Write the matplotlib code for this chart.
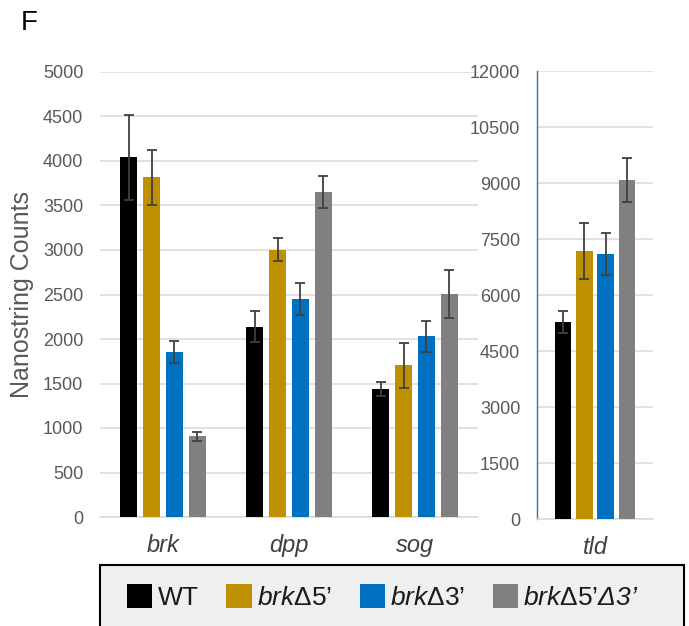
import matplotlib
matplotlib.use("Agg")
import matplotlib.pyplot as plt
from matplotlib.patches import Rectangle, Patch
import numpy as np

plt.rcParams['font.family'] = ['Liberation Sans', 'DejaVu Sans']
plt.rcParams['mathtext.fontset'] = 'custom'
plt.rcParams['mathtext.rm'] = 'Liberation Sans:italic'
plt.rcParams['mathtext.it'] = 'Liberation Sans:italic'
plt.rcParams['mathtext.sf'] = 'Liberation Sans'

# ---- data ----
genes_left = ['brk', 'dpp', 'sog']
genes_right = ['tld']
series_names = ['WT', 'brkΔ5’', 'brkΔ3’', 'brkΔ5’Δ3’']
legend_labels = ['WT',
                 r'$\mathrm{brk}\mathsf{Δ5’}$',
                 r'$\mathrm{brk}\mathsf{Δ3’}$',
                 r'$\mathrm{brk}\mathsf{Δ5’}\mathrm{Δ3’}$']
colors = ['#000000', '#BF9000', '#0070C0', '#808080']

wt_left = [4040, 2140, 1440]
wt_left_err = [475, 172, 75]
d5_left = [3815, 3005, 1705]
d5_left_err = [305, 128, 255]
d3_left = [1855, 2445, 2030]
d3_left_err = [125, 180, 175]
d53_left = [905, 3650, 2505]
d53_left_err = [55, 180, 265]

tld_values = [5280, 7180, 7100, 9080]
tld_errors = [295, 760, 555, 600]

left_yticks = [0, 500, 1000, 1500, 2000, 2500, 3000, 3500, 4000, 4500, 5000]
right_yticks = [0, 1500, 3000, 4500, 6000, 7500, 9000, 10500, 12000]

# ---- figure ----
W, H = 689, 626
fig = plt.figure(figsize=(W / 100, H / 100), dpi=100)

def fx(px):
    return px / W

def fy(py):
    return 1 - py / H

axL = fig.add_axes([fx(100), fy(517), fx(478) - fx(100), fy(72) - fy(517)])
axR = fig.add_axes([fx(537), fy(519), fx(653) - fx(537), fy(71) - fy(519)])

step = 0.182
width = 0.14
grid_c = '#d9d9d9'
err_kw = dict(ecolor='#404040', elinewidth=1.3, capsize=3.5, capthick=1.3)

left_vals = [wt_left, d5_left, d3_left, d53_left]
left_errs = [wt_left_err, d5_left_err, d3_left_err, d53_left_err]
x = np.arange(len(genes_left))
for i in range(4):
    axL.bar(x + (i - 1.5) * step, left_vals[i], width, yerr=left_errs[i],
            color=colors[i], error_kw=err_kw, zorder=3)

xr = np.arange(len(genes_right))
for i in range(4):
    axR.bar(xr + (i - 1.5) * step, [tld_values[i]], width, yerr=[tld_errors[i]],
            color=colors[i], error_kw=err_kw, zorder=3)

axL.set_xlim(-0.5, 2.5)
axL.set_ylim(0, 5000)
axL.set_yticks(left_yticks)
axR.set_xlim(-0.5, 0.5)
axR.set_ylim(0, 12000)
axR.set_yticks(right_yticks)

axL.set_xticks(x)
axL.set_xticklabels(genes_left)
axR.set_xticks(xr)
axR.set_xticklabels(genes_right)

for ax in (axL, axR):
    ax.yaxis.grid(True, color=grid_c, lw=1.1, zorder=0)
    ax.set_axisbelow(True)
    for s in ('top', 'right', 'left'):
        ax.spines[s].set_visible(False)
    ax.spines['bottom'].set_color(grid_c)
    ax.spines['bottom'].set_linewidth(1.1)
    ax.tick_params(axis='both', length=0)
    ax.tick_params(axis='y', labelsize=13, labelcolor='#595959', pad=12)
    ax.tick_params(axis='x', labelsize=17, labelcolor='#404040', pad=12)
    for t in ax.get_xticklabels():
        t.set_fontstyle('italic')

axR.spines['left'].set_visible(True)
axR.spines['left'].set_color('#2E75B6')
axR.spines['left'].set_linewidth(1.0)

fig.text(fx(22), fy(295), 'Nanostring Counts', rotation=90, ha='center',
         va='center', fontsize=18, color='#595959')
fig.text(fx(21), fy(23), 'F', ha='left', va='center', fontsize=20, color='black')

# legend box (extends past the bottom edge)
fig.patches.append(Rectangle((fx(100), -0.05), fx(684) - fx(100), fy(565) + 0.05,
                             transform=fig.transFigure, facecolor='#efefef',
                             edgecolor='black', lw=1.5, zorder=0))
handles = [Patch(facecolor=c, edgecolor='none') for c in colors]
leg = fig.legend(handles, legend_labels, loc='center', ncol=4,
                 bbox_to_anchor=(fx(383), fy(597)), frameon=False, fontsize=19,
                 handlelength=0.95, handleheight=1.06, handletextpad=0.2,
                 columnspacing=1.05, borderpad=0)
for t in leg.get_texts():
    t.set_color('#1a1a1a')

fig.savefig('out.png', dpi=100)
